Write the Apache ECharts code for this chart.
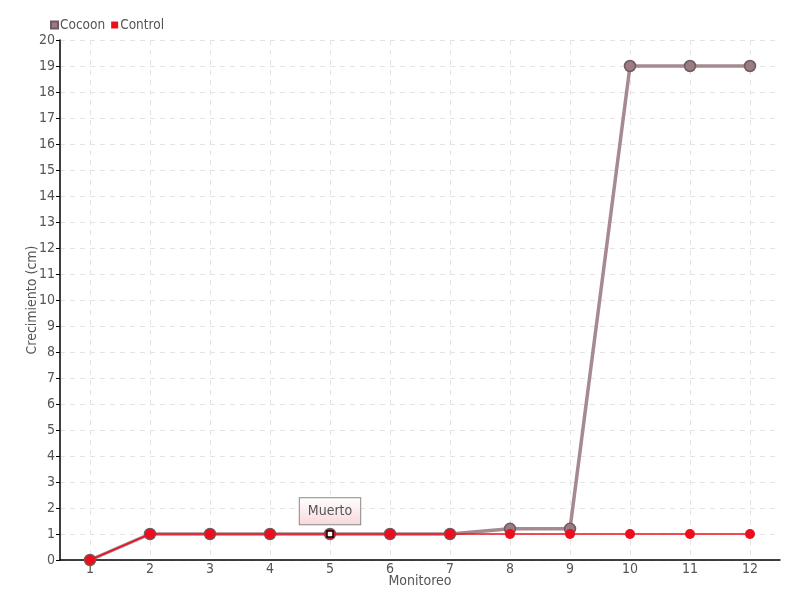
<!DOCTYPE html>
<html>
<head>
<meta charset="utf-8">
<script src="https://cdn.jsdelivr.net/npm/echarts@6/dist/echarts.min.js"></script>
<style>
  html, body { margin: 0; padding: 0; background: #fff; }
  #chart { width: 800px; height: 600px; }
</style>
</head>
<body>
<div id="chart"></div>
<script>
// datos del monitoreo
const monitoreos = ['1', '2', '3', '4', '5', '6', '7', '8', '9', '10', '11', '12'];
const cocoon = [0, 1, 1, 1, 1, 1, 1, 1.2, 1.2, 19, 19, 19];
const control = [0, 1, 1, 1, 1, 1, 1, 1, 1, 1, 1, 1];
const muertoIndex = 4;
const muertoTexto = 'Muerto';

const fuente = '"DejaVu Sans Condensed", "Roboto Condensed", "Liberation Sans Narrow", "DejaVu Sans", sans-serif';
const gris = '#555';

const myChart = echarts.init(document.getElementById('chart'));

option = {
    textStyle: { fontFamily: fuente },
    legend: {
        data: ['Cocoon', 'Control'],
        left: 45,
        top: 13,
        itemWidth: 7,
        itemHeight: 7,
        itemGap: 6,
        icon: 'rect',
        textStyle: { fontSize: 13.5, color: gris, fontFamily: fuente, padding: [0, 0, 0, -3] }
    },
    grid: {
        top: 40,
        left: 60,
        right: 20,
        bottom: 40,
        outerBoundsMode: 'none',
        containLabel: false
    },
    xAxis: {
        type: 'category',
        data: monitoreos,
        name: 'Monitoreo',
        nameLocation: 'middle',
        nameGap: 14,
        nameMoveOverlap: false,
        nameTextStyle: { fontSize: 14, color: gris, fontFamily: fuente },
        axisLine: { lineStyle: { color: '#000', width: 1.5 } },
        axisTick: { alignWithLabel: true, length: 5, lineStyle: { color: '#000' } },
        axisLabel: { fontSize: 14, color: gris, margin: 2, fontFamily: fuente },
        splitLine: {
            show: true,
            alignWithLabel: true,
            lineStyle: { color: '#e3e3e3', type: [5, 5] }
        }
    },
    yAxis: {
        type: 'value',
        min: 0,
        max: 20,
        interval: 1,
        name: 'Crecimiento (cm)',
        nameLocation: 'middle',
        nameGap: 21,
        nameMoveOverlap: false,
        nameTextStyle: { fontSize: 14, color: gris, fontFamily: fuente },
        axisLine: { show: true, lineStyle: { color: '#000', width: 1.5 } },
        axisTick: { show: true, length: 4, lineStyle: { color: '#000' } },
        axisLabel: { fontSize: 14, color: gris, margin: 5, fontFamily: fuente },
        splitLine: {
            show: true,
            lineStyle: { color: '#e3e3e3', type: [5, 5] }
        }
    },
    series: [
        {
            name: 'Cocoon',
            type: 'line',
            data: cocoon,
            symbol: 'circle',
            symbolSize: 11,
            color: '#a38990',
            lineStyle: { color: '#a58a90', width: 3.5 },
            itemStyle: { color: '#9a7c82', borderColor: '#6e5a5f', borderWidth: 1.5 },
            z: 2
        },
        {
            name: 'Control',
            type: 'line',
            data: control,
            symbol: 'circle',
            symbolSize: 10,
            color: '#f0101e',
            lineStyle: { color: '#f0101e', width: 1.5 },
            itemStyle: { color: '#ee0d1c' },
            z: 3,
            markPoint: {
                symbol: 'rect',
                symbolSize: 6,
                itemStyle: { color: '#fff', borderColor: '#000', borderWidth: 1.5 },
                label: {
                    show: true,
                    position: 'top',
                    distance: 6,
                    formatter: muertoTexto,
                    fontSize: 14,
                    color: gris,
                    fontFamily: fuente,
                    padding: [6, 8, 6, 8],
                    borderColor: '#888',
                    borderWidth: 1,
                    backgroundColor: {
                        type: 'linear', x: 0, y: 0, x2: 0, y2: 1,
                        colorStops: [
                            { offset: 0, color: '#ffffff' },
                            { offset: 1, color: '#f8d8da' }
                        ]
                    }
                },
                data: [{ coord: [muertoIndex, control[muertoIndex]] }]
            }
        }
    ]
};

myChart.setOption(option);
</script>
</body>
</html>
